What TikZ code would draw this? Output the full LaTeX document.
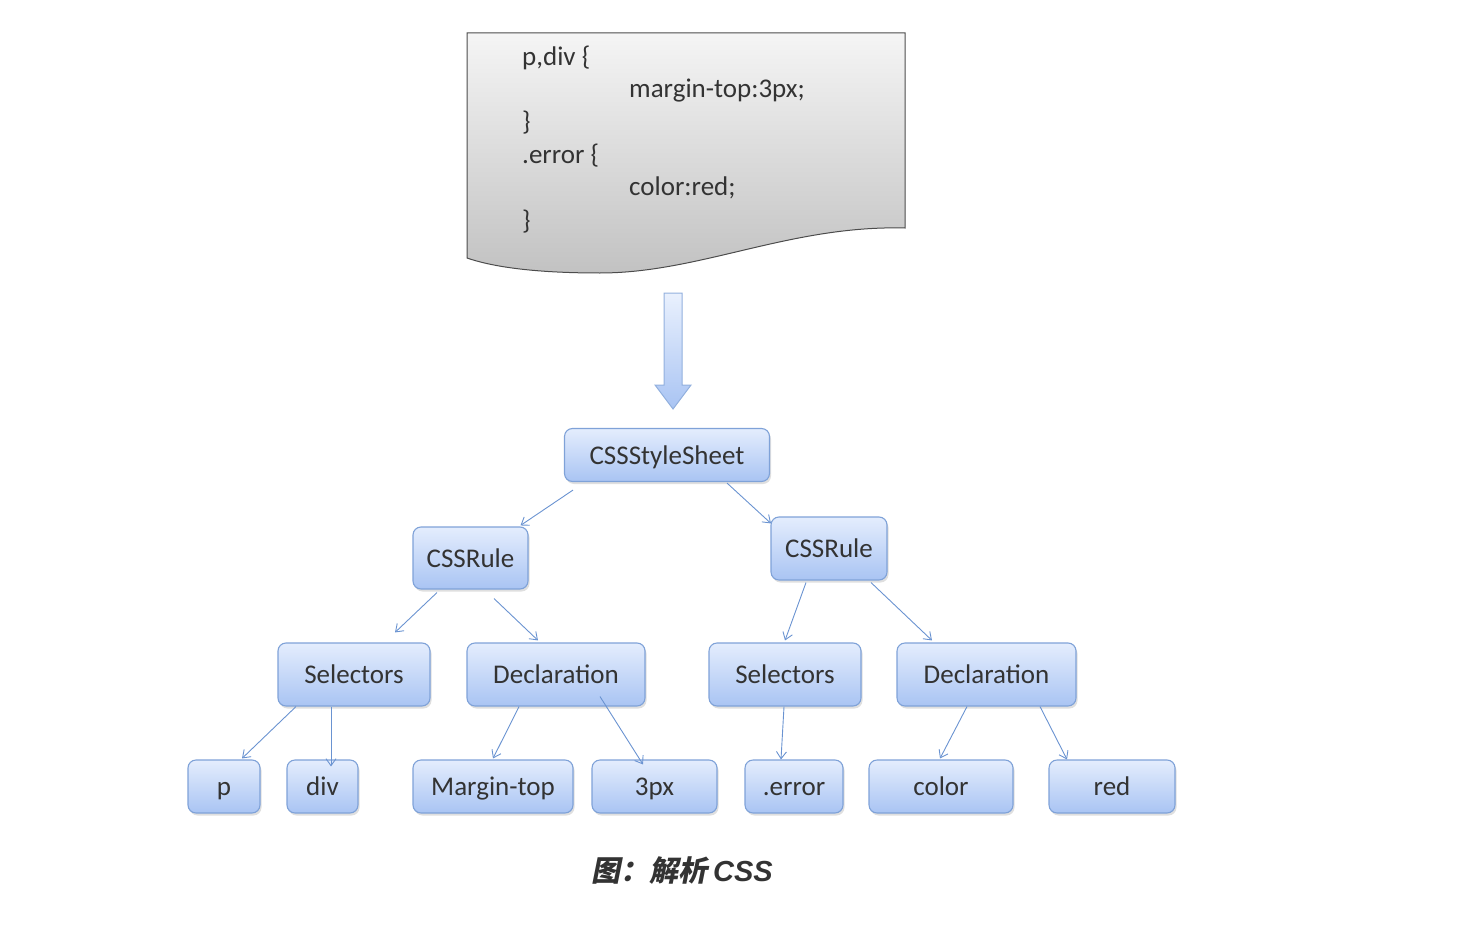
\documentclass[tikz,border=0pt]{standalone}
\usepackage{fontspec}
\setmainfont{Carlito}
\newfontfamily\cjk[FakeSlant=0.2]{Noto Sans CJK SC}
\newfontfamily\capfont{Liberation Sans}
\usetikzlibrary{arrows.meta,calc,shadows}
\definecolor{nodetop}{HTML}{E4EDFD}
\definecolor{nodebot}{HTML}{A9C4F3}
\definecolor{nodeline}{HTML}{7FA2D8}
\definecolor{edgeblue}{HTML}{6A93D1}
\definecolor{doctop}{HTML}{F5F5F5}
\definecolor{docbot}{HTML}{C2C2C2}
\definecolor{textgray}{HTML}{333333}
\tikzset{
  tree node/.style={draw=nodeline,line width=1.1pt,rounded corners=8pt,
    top color=nodetop,bottom color=nodebot,text=textgray,
    font=\fontsize{27}{32}\selectfont,inner sep=0pt,
    text height=20pt,text depth=2pt,minimum width=#1,
    drop shadow={shadow xshift=1.5pt,shadow yshift=-2.5pt,opacity=0.25}},
  mid node/.style={tree node=#1,minimum height=63pt},
  leaf node/.style={tree node=#1,minimum height=53pt},
  tree edge/.style={draw=edgeblue,line width=0.9pt,-{Straight Barb[length=7pt,width=10pt]}},
  code line/.style={anchor=base west,inner sep=0pt,text=textgray,font=\fontsize{27}{32}\selectfont},
  doc shape/.style={draw=black!70,line width=1pt,top color=doctop,bottom color=docbot},
  block arrow/.style={draw=nodeline!85,line width=1pt,top color=nodetop!80,bottom color=nodebot},
}
\begin{document}
\begin{tikzpicture}[x=1pt,y=-1pt]
  \useasboundingbox (0,0) rectangle (1482,944);
  % source document
  \draw[doc shape] (467,33) -- (905,33) -- (905,228)
    .. controls (790,225) and (700,273) .. (600,273)
    .. controls (530,273) and (490,266) .. (467,258) -- cycle;
  \node[code line] (c1) at (522,66) {p,div \{};
  \node[code line] (c2) at (629,98) {margin-top:3px;};
  \node[code line] (c3) at (522,131) {\}};
  \node[code line] (c4) at (522,164) {.error \{};
  \node[code line] (c5) at (629,196) {color:red;};
  \node[code line] (c6) at (522,229) {\}};
  % parse arrow
  \draw[block arrow] (664,293) -- (682,293) -- (682,385) -- (691,385)
    -- (673,409) -- (655,385) -- (664,385) -- cycle;
  % tree
  \node[leaf node=205pt] (ss) at (667,455) {CSSStyleSheet};
  \node[mid node=115pt,minimum height=62pt] (rl) at (470.5,558) {CSSRule};
  \node[mid node=116pt] (rr) at (829,548.5) {CSSRule};
  \node[mid node=152pt] (sl) at (354,674.5) {Selectors};
  \node[mid node=178pt] (dl) at (556,674.5) {Declaration};
  \node[mid node=152pt] (sr) at (785,674.5) {Selectors};
  \node[mid node=179pt] (dr) at (986.5,674.5) {Declaration};
  \node[leaf node=72pt] (p) at (224,786.5) {p};
  \node[leaf node=71pt] (div) at (322.5,786.5) {div};
  \node[leaf node=160pt] (mt) at (493,786.5) {Margin-top};
  \node[leaf node=125pt] (px) at (654.5,786.5) {3px};
  \node[leaf node=98pt] (err) at (794,786.5) {.error};
  \node[leaf node=144pt] (col) at (941,786.5) {color};
  \node[leaf node=126pt] (red) at (1112,786.5) {red};
  \draw[tree edge] ($(ss.south)+(-94,8)$) -- ($(rl.north)+(50,-1)$);
  \draw[tree edge] ($(ss.south)+(60,1)$) -- ($(rr.north)+(-58,7)$);
  \draw[tree edge] ($(rl.south)+(-33.5,3)$) -- ($(sl.north)+(41,-10)$);
  \draw[tree edge] ($(rl.south)+(23.5,9)$) -- ($(dl.north)+(-18,-2)$);
  \draw[tree edge] ($(rr.south)+(-23,2)$) -- ($(sr.north)+(0,-2)$);
  \draw[tree edge] ($(rr.south)+(42,2)$) -- ($(dr.north)+(-54.5,-2)$);
  \draw[tree edge] ($(sl.south)+(-58,0)$) -- ($(p.north)+(18,-1)$);
  \draw[tree edge] ($(sl.south)+(-23,0)$) -- ($(div.north)+(8.5,7)$);
  \draw[tree edge] ($(dl.south)+(-37,0)$) -- ($(mt.north)+(0,-1)$);
  \draw[tree edge] ($(dl.south)+(44,-10)$) -- ($(px.north)+(-11.5,5)$);
  \draw[tree edge] ($(sr.south)+(-1,0)$) -- ($(err.north)+(-13,0)$);
  \draw[tree edge] ($(dr.south)+(-19.5,0)$) -- ($(col.north)+(-1,-1)$);
  \draw[tree edge] ($(dr.south)+(53.5,0)$) -- ($(red.north)+(-45,0)$);
  % caption
  \node[text=textgray,inner sep=0pt] (cap) at (682,871)
    {\cjk\bfseries\fontsize{29}{34}\selectfont 图：解析\hspace{6pt}{\capfont\bfseries\itshape CSS}};
\end{tikzpicture}
\end{document}
